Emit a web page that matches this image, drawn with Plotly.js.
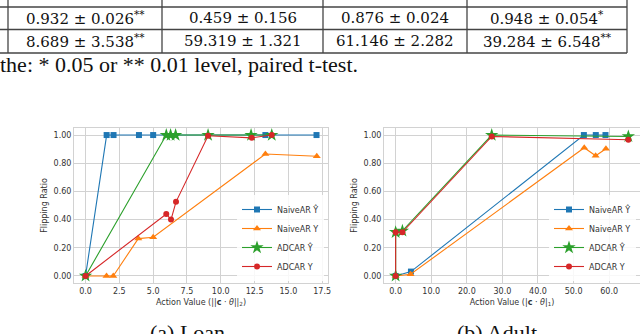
<!DOCTYPE html>
<html><head><meta charset="utf-8">
<script src="https://cdn.plot.ly/plotly-3.0.1.min.js"></script>
<style>html,body{margin:0;padding:0;background:#fff;}#chart{width:640px;height:334px;}</style>
</head><body><div id="chart"></div>
<script>
// ---- Loan (a) ----
const loanNaiveHatX = [0, 1.56, 2.07, 3.95, 5.0, 13.3, 17.08];
const loanNaiveHatY = [0, 1, 1, 1, 1, 1, 1];
const loanNaiveYX   = [0, 1.55, 2.05, 3.9, 5.0, 13.3, 17.1];
const loanNaiveYY   = [0, 0, 0, 0.265, 0.275, 0.865, 0.85];
const loanAdcarHatX = [0, 5.97, 6.29, 6.66, 9.06, 12.24, 13.77];
const loanAdcarHatY = [0, 1, 1, 1, 1, 1, 1];
const loanAdcarYX   = [0, 5.97, 6.32, 6.69, 9.06, 12.29, 13.77];
const loanAdcarYY   = [0, 0.44, 0.40, 0.526, 0.995, 0.98, 1.0];
// ---- Adult (b) ----
const adultNaiveHatX = [0, 4.3, 52.9, 56.25, 58.97];
const adultNaiveHatY = [0, 0.031, 1, 1, 1];
const adultNaiveYX   = [0, 4.2, 53.0, 56.2, 59.1];
const adultNaiveYY   = [0, 0.012, 0.91, 0.853, 0.903];
const adultAdcarHatX = [0, 0, 1.9, 27.0, 65.4];
const adultAdcarHatY = [0, 0.31, 0.32, 1.0, 0.99];
const adultAdcarYX   = [0, 0, 1.9, 27.0, 65.4];
const adultAdcarYY   = [0, 0.31, 0.31, 0.99, 0.967];

const seriesNames = ['NaiveAR Ŷ', 'NaiveAR Y', 'ADCAR Ŷ', 'ADCAR Y'];
const loanTicks = [0, 2.5, 5, 7.5, 10, 12.5, 15, 17.5];
const adultTicks = [0, 10, 20, 30, 40, 50, 60];
const yTicks = [0, 0.2, 0.4, 0.6, 0.8, 1.0];

// table fragment
const tableRow1 = ['0.932 ± 0.026<sup>**</sup>', '0.459 ± 0.156', '0.876 ± 0.024', '0.948 ± 0.054<sup>*</sup>'];
const tableRow2 = ['8.689 ± 3.538<sup>**</sup>', '59.319 ± 1.321', '61.146 ± 2.282', '39.284 ± 6.548<sup>**</sup>'];
const footnote = 'the: * 0.05 or ** 0.01 level, paired t-test.';
const captions = ['(a) Loan', '(b) Adult'];

const colors = ['#1f77b4', '#ff7f0e', '#2ca02c', '#d62728'];
const symbols = ['square', 'triangle-up', 'star', 'circle'];
const msizes = [6, 7, 10, 6];

// pixel helpers (margins l=74, r=0, t=128, b=51)
const ML = 74, MT = 128, PW = 566, PH = 155;
const px = v => (v - ML) / PW;
const py = v => (MT + PH - v) / PH;

function mk(x, y, i, xa, ya, lg) {
  return {x: x, y: y, name: seriesNames[i], type: 'scatter', mode: 'lines+markers',
    xaxis: xa, yaxis: ya, legend: lg,
    line: {color: colors[i], width: 1.1},
    marker: {symbol: symbols[i], size: msizes[i], color: colors[i]}};
}
const data = [
  mk(loanNaiveHatX, loanNaiveHatY, 0, 'x', 'y', 'legend'),
  mk(loanNaiveYX, loanNaiveYY, 1, 'x', 'y', 'legend'),
  mk(loanAdcarHatX, loanAdcarHatY, 2, 'x', 'y', 'legend'),
  mk(loanAdcarYX, loanAdcarYY, 3, 'x', 'y', 'legend'),
  mk(adultNaiveHatX, adultNaiveHatY, 0, 'x2', 'y2', 'legend2'),
  mk(adultNaiveYX, adultNaiveYY, 1, 'x2', 'y2', 'legend2'),
  mk(adultAdcarHatX, adultAdcarHatY, 2, 'x2', 'y2', 'legend2'),
  mk(adultAdcarYX, adultAdcarYY, 3, 'x2', 'y2', 'legend2')
];

const tickFont = {family: 'DejaVu Sans', size: 8, color: '#333'};
function xax(dom, rng, ticks, title, anchor) {
  return {domain: dom, range: rng, tickvals: ticks, ticktext: ticks.map(t => t.toFixed(1)),
    showgrid: true, gridcolor: '#d2d2d2', gridwidth: 1, zeroline: false,
    showline: true, linecolor: '#d2d2d2', linewidth: 1, mirror: true, ticks: '',
    tickfont: tickFont, anchor: anchor,
    title: {text: title, font: {family: 'DejaVu Sans', size: 8, color: '#333'}, standoff: 4}};
}
function yax(rng, anchor) {
  return {domain: [0, 1], range: rng, tickvals: yTicks, ticktext: yTicks.map(t => t.toFixed(2)),
    showgrid: true, gridcolor: '#d2d2d2', gridwidth: 1, zeroline: false,
    showline: true, linecolor: '#d2d2d2', linewidth: 1, mirror: true, ticks: '',
    tickfont: tickFont, anchor: anchor,
    title: {text: 'Flipping Ratio', font: {family: 'DejaVu Sans', size: 8, color: '#333'}, standoff: 4}};
}

const annotations = [];
const serif = 'DejaVu Serif';
const times = '"Liberation Serif", "Times New Roman", serif';
const colCenters = [85, 242.5, 395, 547];
for (let i = 0; i < 4; i++) {
  annotations.push({xref: 'paper', yref: 'paper', x: px(colCenters[i]), y: py(18), text: tableRow1[i],
    showarrow: false, xanchor: 'center', yanchor: 'middle', font: {family: serif, size: 15, color: '#111'}});
  annotations.push({xref: 'paper', yref: 'paper', x: px(colCenters[i]), y: py(41), text: tableRow2[i],
    showarrow: false, xanchor: 'center', yanchor: 'middle', font: {family: serif, size: 15, color: '#111'}});
}
annotations.push({xref: 'paper', yref: 'paper', x: px(-2), y: py(64), text: footnote, showarrow: false,
  xanchor: 'left', yanchor: 'middle', font: {family: times, size: 22, color: '#111'}});
annotations.push({xref: 'paper', yref: 'paper', x: px(187), y: py(332), text: captions[0], showarrow: false,
  xanchor: 'center', yanchor: 'middle', font: {family: times, size: 22, color: '#111'}});
annotations.push({xref: 'paper', yref: 'paper', x: px(497), y: py(332), text: captions[1], showarrow: false,
  xanchor: 'center', yanchor: 'middle', font: {family: times, size: 22, color: '#111'}});

const shapes = [];
const lineStyle = {color: '#444', width: 1.3};
[7, 29.5, 53].forEach(yv => shapes.push({type: 'line', xref: 'paper', yref: 'paper',
  x0: px(0), x1: px(627), y0: py(yv), y1: py(yv), line: lineStyle}));
[8, 162, 323, 467, 627].forEach(xv => shapes.push({type: 'line', xref: 'paper', yref: 'paper',
  x0: px(xv), x1: px(xv), y0: py(0), y1: py(53), line: lineStyle}));

const legFont = {family: 'DejaVu Sans', size: 8, color: '#333'};
const layout = {
  width: 640, height: 334,
  margin: {l: ML, r: 0, t: MT, b: 334 - MT - PH, pad: 0},
  paper_bgcolor: '#fff', plot_bgcolor: '#fff',
  showlegend: true,
  xaxis: xax([0, px(328)], [-0.854, 17.93], loanTicks, 'Action Value (||<b>c</b> · <i>θ</i>||<sub>2</sub>)', 'y'),
  yaxis: yax([-0.05, 1.05], 'x'),
  xaxis2: xax([px(384), 1], [-3.27, 68.67], adultTicks, 'Action Value (|<b>c</b> · <i>θ</i>|<sub>1</sub>)', 'y2'),
  yaxis2: yax([-0.05, 1.05], 'x2'),
  legend: {x: px(324), y: py(281), xanchor: 'right', yanchor: 'bottom', font: legFont,
    bgcolor: 'rgba(255,255,255,0.85)', borderwidth: 0, itemwidth: 30, tracegroupgap: 0},
  legend2: {x: px(636), y: py(281), xanchor: 'right', yanchor: 'bottom', font: legFont,
    bgcolor: 'rgba(255,255,255,0.85)', borderwidth: 0, itemwidth: 30, tracegroupgap: 0},
  annotations: annotations,
  shapes: shapes
};
Plotly.newPlot('chart', data, layout, {staticPlot: true, displayModeBar: false});
</script></body></html>
